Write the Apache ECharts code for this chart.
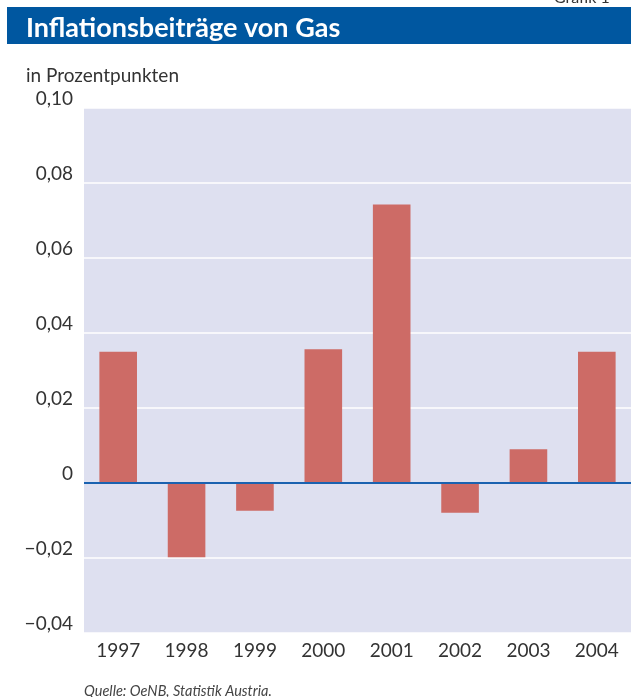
<!DOCTYPE html>
<html>
<head>
<meta charset="utf-8">
<script src="https://cdn.jsdelivr.net/npm/echarts@6/dist/echarts.min.js"></script>
<style>
  html, body { margin: 0; padding: 0; background: #fff; }
  #chart { width: 631px; height: 697px; }
</style>
</head>
<body>
<div id="chart"></div>
<script>
// Jahre und Inflationsbeiträge (Prozentpunkte)
var years = ['1997', '1998', '1999', '2000', '2001', '2002', '2003', '2004'];
var gasValues = [0.035, -0.0198, -0.0074, 0.0357, 0.0743, -0.0079, 0.009, 0.035];

var myChart = echarts.init(document.getElementById('chart'));

var option = {
  animation: false,
  textStyle: { fontFamily: 'Lato, "Open Sans", sans-serif' },
  title: [{
    text: 'Inflationsbeiträge von Gas',
    left: 21, top: 10,
    textStyle: { color: '#fff', fontSize: 27, fontWeight: 'bold', fontFamily: 'Lato' }
  }, {
    text: 'in Prozentpunkten',
    left: 21, top: 61,
    textStyle: { color: '#333', fontSize: 19, fontWeight: 'normal', fontFamily: 'Lato' }
  }, {
    text: 'Quelle: OeNB, Statistik Austria.',
    left: 79, top: 679,
    textStyle: { color: '#444', fontSize: 14.5, fontWeight: 'normal', fontStyle: 'italic', fontFamily: 'Lato' }
  }, {
    text: 'Grafik 1',
    left: 549, top: -15,
    textStyle: { color: '#333', fontSize: 16, fontWeight: 'normal', fontFamily: 'Lato' }
  }],
  graphic: [{
    type: 'rect', z: -1,
    shape: { x: 7, y: 7, width: 624, height: 37 },
    style: { fill: '#0057a0' }
  }],
  grid: {
    left: 84, right: 0, top: 108, bottom: 64,
    show: true, backgroundColor: '#dee0f0', borderWidth: 0
  },
  xAxis: {
    type: 'category',
    data: years,
    position: 'bottom',
    axisLine: { show: false },
    axisTick: { show: false },
    axisLabel: {
      interval: 0, margin: 8,
      color: '#333', fontSize: 19, fontFamily: 'Lato'
    }
  },
  yAxis: {
    type: 'value',
    min: -0.04, max: 0.1, interval: 0.02,
    axisLine: { show: false },
    axisTick: { show: false },
    splitLine: { lineStyle: { color: '#fff', width: 1.5 } },
    axisLabel: {
      margin: 11, color: '#333', fontSize: 19, fontFamily: 'Lato',
      verticalAlign: 'bottom',
      formatter: function(v) {
        if (Math.abs(v) < 1e-9) return '0';
        var s = Math.abs(v).toFixed(2).replace('.', ',');
        return v < 0 ? '\u2212' + s : s;
      }
    }
  },
  series: [{
    type: 'bar',
    data: gasValues,
    barWidth: '55%',
    itemStyle: { color: '#cd6b66' },
    markLine: {
      silent: true, symbol: 'none',
      label: { show: false },
      lineStyle: { color: '#1a62b0', width: 2, type: 'solid' },
      data: [{ yAxis: 0 }]
    }
  }]
};

myChart.setOption(option);
</script>
</body>
</html>
